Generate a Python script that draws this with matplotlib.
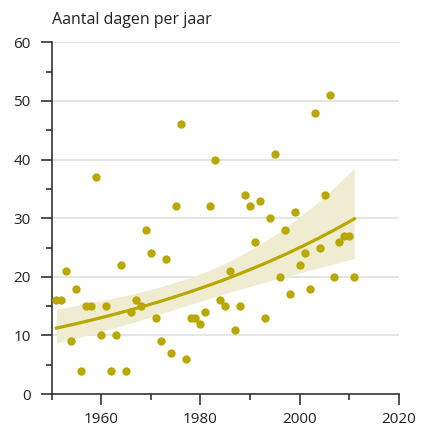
import matplotlib
matplotlib.use('Agg')
import matplotlib.pyplot as plt
import numpy as np

# jaren en aantal dagen per jaar
years = np.arange(1951, 2012)
days = [16, 16, 21, 9, 18, 4, 15, 15, 37, 10,
        15, 4, 10, 22, 4, 14, 16, 15, 28, 24,
        13, 9, 23, 7, 32, 46, 6, 13, 13, 12,
        14, 32, 40, 16, 15, 21, 11, 15, 34, 32,
        26, 33, 13, 30, 41, 20, 28, 17, 31, 22,
        24, 18, 48, 25, 34, 51, 20, 26, 27, 27,
        20]
title = 'Aantal dagen per jaar'
xticks_major = [1960, 1980, 2000, 2020]
xticks_minor = [1950, 1970, 1990, 2010]
yticks = [0, 10, 20, 30, 40, 50, 60]

dot_color = '#b8a800'
band_color = '#f0ecd2'

# trend: lineaire regressie op log(dagen)
y = np.log(np.array(days, dtype=float))
xc = years - years.mean()
X = np.column_stack([np.ones_like(xc), xc])
beta, res, rk, sv = np.linalg.lstsq(X, y, rcond=None)
resid = y - X @ beta
s2 = np.sum(resid ** 2) / (len(y) - 2)
cov = s2 * np.linalg.inv(X.T @ X)
xs = np.linspace(years.min(), years.max(), 200)
Xs = np.column_stack([np.ones_like(xs), xs - years.mean()])
eta = Xs @ beta
se = np.sqrt(np.einsum('ij,jk,ik->i', Xs, cov, Xs))
fit = np.exp(eta)
lo = np.exp(eta - 1.96 * se)
hi = np.exp(eta + 1.96 * se)

plt.rcParams['font.family'] = ['Open Sans', 'DejaVu Sans']
fig = plt.figure(figsize=(4.21, 4.32), dpi=100)
ax = fig.add_axes([51.5 / 421, 1 - 394 / 432, (399 - 51.5) / 421, (394 - 42.4) / 432])

ax.fill_between(xs, lo, hi, color=band_color, lw=0, zorder=1)
ax.plot(xs, fit, color=dot_color, lw=2.3, zorder=2)
ax.scatter(years, days, s=36, color=dot_color, lw=0, zorder=3)

ax.set_xlim(1950, 2020)
ax.set_ylim(0, 60)
ax.set_xticks(xticks_major)
ax.set_xticks(xticks_minor, minor=True)
ax.set_yticks(yticks)
ax.set_yticks([5, 15, 25, 35, 45, 55], minor=True)
for v in yticks[1:]:
    ax.axhline(v, color='#e3e3e3', lw=1.3, zorder=0)

for s in ['top', 'right']:
    ax.spines[s].set_visible(False)
for s in ['left', 'bottom']:
    ax.spines[s].set_color('#333333')
    ax.spines[s].set_linewidth(1.2)
ax.tick_params(which='major', length=8, width=1.2, color='#333333',
               labelsize=11, labelcolor='#222222')
ax.tick_params(which='minor', length=4.5, width=1.2, color='#333333')
ax.tick_params(axis='y', which='major', pad=7)
ax.tick_params(axis='x', which='major', pad=5)

fig.text(51.5 / 421, 1 - 20 / 432, title, fontsize=11.5, color='#222222',
         ha='left', va='center')

fig.savefig('out.png', dpi=100)
